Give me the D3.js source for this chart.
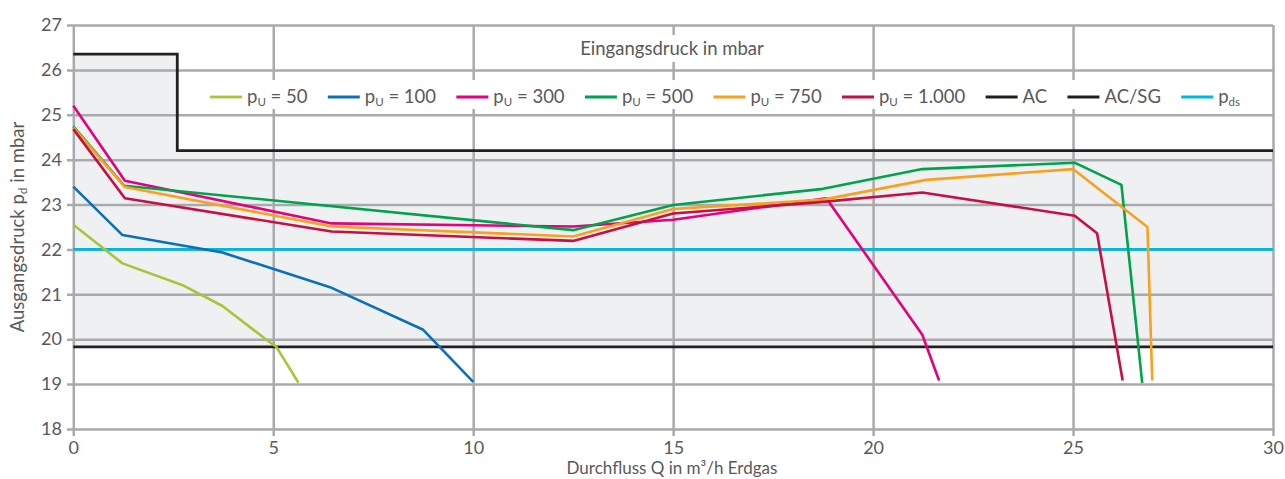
<!DOCTYPE html>
<html>
<head>
<meta charset="utf-8">
<script src="https://cdn.jsdelivr.net/npm/d3@7"></script>
<style>
  body { margin: 0; background: #fff; }
  svg text { font-family: Lato, "Open Sans", sans-serif; fill: #58595b; }
</style>
</head>
<body>
<svg id="chart" width="1285" height="479"></svg>
<script>
  // Durchfluss Q (m3/h) / Ausgangsdruck pd (mbar) pairs
  var pu50 = [[0,22.55],[1.23,21.69],[2.72,21.21],[3.73,20.74],[4.87,19.96],[5.07,19.84],[5.63,19.03]];
  var pu100 = [[0,23.4],[1.23,22.32],[3.73,21.93],[6.42,21.16],[8.75,20.21],[10,19.05]];
  var pu300 = [[0,25.2],[1.29,23.53],[6.46,22.58],[12.5,22.51],[15,22.66],[18.83,23.14],[21.23,20.1],[21.65,19.08]];
  var pu500 = [[0,24.74],[1.27,23.42],[12.5,22.43],[15,22.99],[18.75,23.35],[21.23,23.79],[25.05,23.93],[26.21,23.44],[26.73,19.02]];
  var pu750 = [[0,24.72],[1.29,23.39],[6.46,22.51],[12.5,22.29],[15,22.9],[18.75,23.11],[21.33,23.55],[25,23.79],[26.86,22.5],[26.98,19.08]];
  var pu1000 = [[0,24.68],[1.29,23.14],[6.46,22.4],[12.5,22.19],[15,22.8],[18.75,23.06],[21.23,23.27],[25.04,22.75],[25.6,22.36],[26.24,19.08]];

  var acLevel = 19.83;
  var acsgSteps = [[0,26.35],[2.6,24.2],[30,24.2]];
  var pdsLevel = 22;

  var xTicks = [0,5,10,15,20,25,30];
  var yTicks = [18,19,20,21,22,23,24,25,26,27];

  var seriesNames = ['50','100','300','500','750','1.000'];
  var seriesData = [pu50, pu100, pu300, pu500, pu750, pu1000];
  var seriesColors = ['#a5c63b','#0a70b8','#e5007d','#00a24d','#f7a11f','#c60f43'];

  var black = '#231f20', cyan = '#00b7e3', gridCol = '#a9aaad', fillCol = '#eff0f2';

  var svg = d3.select('#chart');
  var x = d3.scaleLinear().domain([0,30]).range([73.3,1273]);
  var y = d3.scaleLinear().domain([18,27]).range([429,25]);

  // grey band between AC and AC/SG
  var area = d3.area()
    .curve(d3.curveStepAfter)
    .x(function (d) { return x(d[0]); })
    .y0(y(acLevel))
    .y1(function (d) { return y(d[1]); });
  svg.append('path').datum(acsgSteps).attr('d', area).attr('fill', fillCol);

  // grid via axes
  var yAxis = svg.append('g')
    .attr('transform', 'translate(67,0)')
    .call(d3.axisLeft(y).tickValues(yTicks).tickSizeInner(-(1273 - 67)).tickSizeOuter(0).tickPadding(5));
  var xAxis = svg.append('g')
    .attr('transform', 'translate(0,436)')
    .call(d3.axisBottom(x).tickValues(xTicks).tickSizeInner(-(436 - 25)).tickSizeOuter(0).tickPadding(5));
  [yAxis, xAxis].forEach(function (a) {
    a.select('.domain').remove();
    a.selectAll('.tick line').attr('stroke', gridCol).attr('stroke-width', 2.5);
    a.selectAll('.tick text').attr('font-size', 18).attr('fill', '#6d6e71')
      .style('font-family', 'Lato, "Open Sans", sans-serif');
  });

  // Eingangsdruck header
  var head = svg.append('g');
  head.append('rect').attr('x', 578).attr('y', 35).attr('width', 190).attr('height', 27).attr('fill', '#fff');
  head.append('text').attr('x', 672).attr('y', 55).attr('text-anchor', 'middle')
    .attr('font-size', 18.5).text('Eingangsdruck in mbar');

  // reference lines
  var line = d3.line().x(function (d) { return x(d[0]); }).y(function (d) { return y(d[1]); });
  svg.append('path').datum(acsgSteps).attr('d', line.curve(d3.curveStepAfter))
    .attr('fill', 'none').attr('stroke', black).attr('stroke-width', 2.8);
  line.curve(d3.curveLinear);
  svg.append('path').datum([[0, acLevel],[30, acLevel]]).attr('d', line)
    .attr('fill', 'none').attr('stroke', black).attr('stroke-width', 2.8);
  svg.append('path').datum([[0, pdsLevel],[30, pdsLevel]]).attr('d', line)
    .attr('fill', 'none').attr('stroke', cyan).attr('stroke-width', 2.8);

  // curves
  svg.selectAll('path.curve').data(seriesData).enter().append('path')
    .attr('class', 'curve')
    .attr('d', line)
    .attr('fill', 'none')
    .attr('stroke', function (d, i) { return seriesColors[i]; })
    .attr('stroke-width', 2.6)
    .attr('stroke-linejoin', 'round');

  // legend
  var legItems = seriesNames.map(function (n, i) { return { main: 'p', sub: 'U', rest: ' = ' + n, color: seriesColors[i] }; });
  legItems.push({ main: 'AC', sub: '', rest: '', color: black });
  legItems.push({ main: 'AC/SG', sub: '', rest: '', color: black });
  legItems.push({ main: 'p', sub: 'ds', rest: '', color: cyan });

  var legend = svg.append('g');
  legend.append('rect').attr('x', 204).attr('y', 80).attr('width', 1058).attr('height', 29).attr('fill', '#fff');
  var legStart = 210, legEnd = 1240, segLen = 32, segGap = 5;
  var groups = legend.selectAll('g.item').data(legItems).enter().append('g').attr('class', 'item');
  groups.append('line').attr('x1', 0).attr('x2', segLen).attr('y1', 97).attr('y2', 97)
    .attr('stroke', function (d) { return d.color; }).attr('stroke-width', 2.8);
  var txt = groups.append('text').attr('x', segLen + segGap).attr('y', 103).attr('font-size', 18.5);
  txt.append('tspan').text(function (d) { return d.main; });
  txt.append('tspan').attr('font-size', 11.5).attr('dy', 3).text(function (d) { return d.sub; });
  txt.append('tspan').attr('dy', function (d) { return d.sub ? -3 : 0; }).text(function (d) { return d.rest; });

  var widths = [];
  txt.each(function () { widths.push(segLen + segGap + this.getComputedTextLength()); });
  var total = d3.sum(widths);
  var gap = (legEnd - legStart - total) / (legItems.length - 1);
  var pos = legStart;
  groups.attr('transform', function (d, i) {
    var t = 'translate(' + pos + ',0)';
    pos += widths[i] + gap;
    return t;
  });

  // axis titles
  var yt = svg.append('text').attr('transform', 'translate(24,227) rotate(-90)')
    .attr('text-anchor', 'middle').attr('font-size', 18.5);
  yt.append('tspan').text('Ausgangsdruck p');
  yt.append('tspan').attr('font-size', 12).attr('dy', 3).text('d');
  yt.append('tspan').attr('dy', -3).text(' in mbar');

  svg.append('text').attr('x', 672).attr('y', 474).attr('text-anchor', 'middle')
    .attr('font-size', 17).text('Durchfluss Q in m³/h Erdgas');
</script>
</body>
</html>
